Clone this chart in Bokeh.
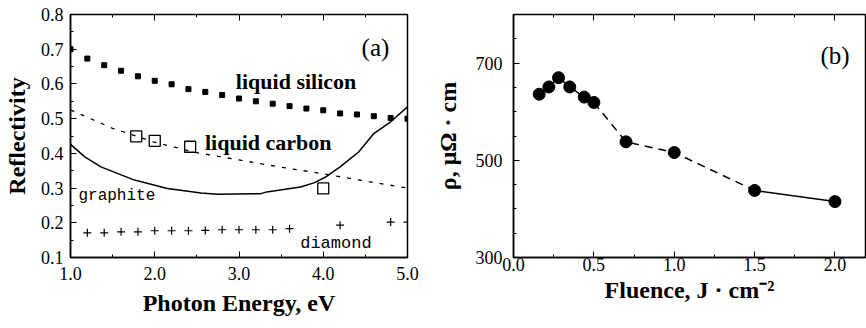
from bokeh.plotting import figure
from bokeh.layouts import row
from bokeh.models import Range1d, LinearAxis, FixedTicker, Label
from bokeh.embed import file_html
from bokeh.resources import INLINE

# ---- Panel (a) data ----
si_energy = [1.0, 1.2, 1.4, 1.6, 1.8, 2.0, 2.2, 2.4, 2.6, 2.8, 3.0, 3.2, 3.4, 3.6, 3.8, 4.0, 4.2, 4.4, 4.6, 4.8, 5.0]
si_refl = [0.700, 0.673, 0.654, 0.638, 0.622, 0.609, 0.599, 0.585, 0.577, 0.568, 0.558, 0.550, 0.543, 0.536, 0.529, 0.524, 0.515, 0.512, 0.507, 0.502, 0.500]

lc_line_energy = [1.0, 1.5, 2.0, 2.5, 3.0, 3.5, 4.0, 4.5, 5.0]
lc_line_refl = [0.525, 0.472, 0.432, 0.402, 0.381, 0.360, 0.341, 0.320, 0.300]

lc_pts_energy = [1.78, 2.0, 2.42, 4.0]
lc_pts_refl = [0.449, 0.436, 0.419, 0.299]

gr_energy = [1.0, 1.17, 1.36, 1.76, 2.15, 2.55, 2.74, 3.26, 3.33, 3.73, 3.89, 4.03, 4.2, 4.42, 4.6, 4.8, 5.0]
gr_refl = [0.426, 0.390, 0.361, 0.323, 0.299, 0.286, 0.282, 0.284, 0.289, 0.303, 0.315, 0.332, 0.361, 0.404, 0.457, 0.491, 0.534]

di_energy = [1.2, 1.4, 1.6, 1.8, 2.0, 2.2, 2.4, 2.6, 2.8, 3.0, 3.2, 3.4, 3.6, 4.2, 4.8, 5.0]
di_refl = [0.171, 0.171, 0.174, 0.174, 0.177, 0.177, 0.177, 0.178, 0.180, 0.180, 0.180, 0.180, 0.183, 0.193, 0.202, 0.202]

a_xticks = [1.0, 2.0, 3.0, 4.0, 5.0]
a_xticklabels = ["1.0", "2.0", "3.0", "4.0", "5.0"]
a_yticks = [0.1, 0.2, 0.3, 0.4, 0.5, 0.6, 0.7, 0.8]
a_yticklabels = ["0.1", "0.2", "0.3", "0.4", "0.5", "0.6", "0.7", "0.8"]

# ---- Panel (b) data ----
fluence = [0.16, 0.22, 0.28, 0.35, 0.44, 0.5, 0.7, 1.0, 1.5, 2.0]
rho = [636, 651, 670, 651, 630, 619, 538, 516, 438, 415]

b_xticks = [0.0, 0.5, 1.0, 1.5, 2.0]
b_xticklabels = ["0.0", "0.5", "1.0", "1.5", "2.0"]
b_yticks = [300, 500, 700]
b_yticklabels = ["300", "500", "700"]

SERIF = "Liberation Serif"
MONO = "Liberation Mono"


def style_axes(p, xlabel, ylabel, xticks, xlabels, xminor, yticks, ylabels, yminor):
    p.grid.visible = False
    p.outline_line_color = "black"
    p.outline_line_width = 1.5
    xa = p.below[0]
    ya = p.left[0]
    xa.axis_label = xlabel
    ya.axis_label = ylabel
    for ax, ticks, labels, minor in ((xa, xticks, xlabels, xminor), (ya, yticks, ylabels, yminor)):
        ax.ticker = FixedTicker(ticks=ticks, minor_ticks=minor)
        ax.major_label_overrides = {t: l for t, l in zip(ticks, labels)}
        ax.major_tick_in = 6
        ax.major_tick_out = 0
        ax.minor_tick_in = 3
        ax.minor_tick_out = 0
        ax.major_tick_line_color = "black"
        ax.minor_tick_line_color = "black"
        ax.axis_line_color = "black"
        ax.axis_line_width = 1.5
        ax.major_label_text_font = SERIF
        ax.major_label_text_font_size = "18px"
        ax.major_label_text_color = "black"
        ax.axis_label_text_font = SERIF
        ax.axis_label_text_font_style = "bold"
        ax.axis_label_text_font_size = "24px"
        ax.axis_label_text_color = "black"
    top = LinearAxis(ticker=FixedTicker(ticks=xticks, minor_ticks=xminor),
                     major_label_overrides={t: "" for t in xticks},
                     axis_line_color=None,
                     major_tick_in=6, major_tick_out=0, minor_tick_in=3, minor_tick_out=0)
    p.add_layout(top, "above")
    return xa, ya


# ---- Panel (a) ----
p1 = figure(width=428, height=328, x_range=Range1d(1.0, 5.0), y_range=Range1d(0.1, 0.8),
            output_backend="svg", toolbar_location=None,
            min_border_left=68, min_border_right=21, min_border_top=14, min_border_bottom=71)
xa1, ya1 = style_axes(p1, "Photon Energy, eV", "Reflectivity",
                      a_xticks, a_xticklabels, [1.0 + 0.5 * i for i in range(9)],
                      a_yticks, a_yticklabels, [0.1 + 0.05 * i for i in range(15)])
xa1.major_label_standoff = 9
xa1.axis_label_standoff = 7
ya1.major_label_standoff = 7
ya1.axis_label_standoff = 8

p1.line(gr_energy, gr_refl, line_color="black", line_width=1.5)
p1.line(lc_line_energy, lc_line_refl, line_color="black", line_width=1.3, line_dash="4 7")
p1.scatter(si_energy, si_refl, marker="square", size=5, fill_color="black", line_color="black")
p1.scatter(lc_pts_energy, lc_pts_refl, marker="square", size=11, fill_color=None, line_color="black", line_width=1.3)
p1.scatter(di_energy, di_refl, marker="cross", size=8, line_color="black", line_width=1.2)

for txt, x, y, font, size, style in [
    ("(a)", 4.62, 0.705, SERIF, "25px", "normal"),
    ("liquid  silicon", 3.71, 0.608, SERIF, "22px", "bold"),
    ("liquid  carbon", 3.38, 0.430, SERIF, "22px", "bold"),
    ("graphite", 1.55, 0.276, MONO, "16px", "normal"),
    ("diamond", 4.15, 0.140, MONO, "17px", "normal"),
]:
    p1.add_layout(Label(x=x, y=y, text=txt, text_font=font, text_font_size=size,
                        text_font_style=style, text_align="center", text_baseline="middle",
                        text_color="black"))

# ---- Panel (b) ----
p2 = figure(width=438, height=328, x_range=Range1d(0.0, 2.19), y_range=Range1d(300, 800),
            output_backend="svg", toolbar_location=None,
            min_border_left=85, min_border_right=1, min_border_top=3, min_border_bottom=63)
xa2, ya2 = style_axes(p2, "Fluence, J · cm⁻²", "ρ, μΩ · cm",
                      b_xticks, b_xticklabels, [0.25 * i for i in range(9)],
                      b_yticks, b_yticklabels, [300 + 50 * i for i in range(11)])
xa2.major_label_standoff = 0
xa2.axis_label_standoff = 3
ya2.major_label_standoff = 11
ya2.axis_label_standoff = 12

p2.line(fluence[5:9], rho[5:9], line_color="black", line_width=1.5, line_dash="8 6")
p2.line(fluence[8:], rho[8:], line_color="black", line_width=1.5)
p2.line(fluence[:6], rho[:6], line_color="black", line_width=1.5)
p2.scatter(fluence, rho, marker="circle", size=12, fill_color="black", line_color="black")
p2.add_layout(Label(x=2.0, y=716, text="(b)", text_font=SERIF, text_font_size="25px",
                    text_align="center", text_baseline="middle", text_color="black"))

layout = row(p1, p2)
open("out.html", "w").write(file_html(layout, INLINE))
